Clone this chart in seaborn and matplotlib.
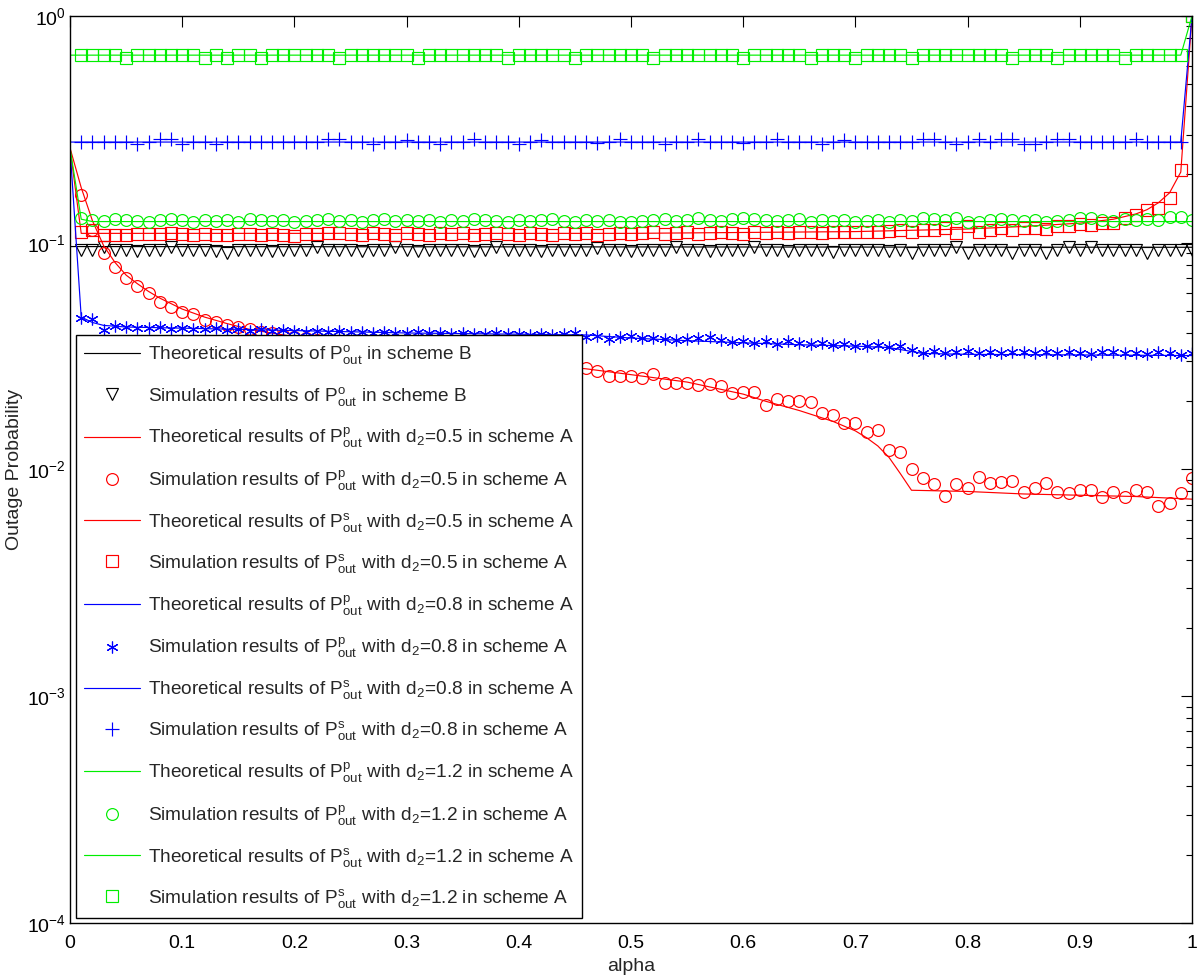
import matplotlib
matplotlib.use("Agg")
import matplotlib.pyplot as plt
from matplotlib.ticker import LogLocator, NullFormatter
import numpy as np
import seaborn as sns

sns.set_style("white")
plt.rcParams["font.family"] = ["Liberation Sans", "DejaVu Sans"]
plt.rcParams["mathtext.fontset"] = "custom"
plt.rcParams["mathtext.rm"] = "Liberation Sans"
plt.rcParams["mathtext.it"] = "Liberation Sans:italic"
plt.rcParams["mathtext.bf"] = "Liberation Sans:bold"

# simulation grid: alpha = 0.01 ... 1.00
alpha_sim = np.round(np.arange(1, 101) * 0.01, 2)

# theoretical curves (knots)
th_b_x = [0.0, 1.0]
th_b_y = [0.0962, 0.0955]

th_pp05_x = [0.0, 0.01, 0.02, 0.03, 0.04, 0.05, 0.06, 0.07, 0.08, 0.10, 0.12, 0.14, 0.16,
             0.20, 0.30, 0.40, 0.46, 0.50, 0.55, 0.60, 0.62, 0.65, 0.68, 0.70, 0.71, 0.72,
             0.73, 0.74, 0.75, 0.80, 0.85, 0.90, 0.95, 1.0]
th_pp05_y = [0.262, 0.175, 0.125, 0.097, 0.082, 0.072, 0.066, 0.061, 0.057, 0.051, 0.047, 0.044, 0.0415,
             0.0385, 0.033, 0.0297, 0.0278, 0.0262, 0.0243, 0.0215, 0.0200, 0.0182, 0.0163, 0.0148, 0.0138, 0.0127,
             0.0113, 0.0096, 0.0081, 0.0080, 0.0078, 0.0077, 0.0076, 0.0074]

th_ps05_x = [0.0, 0.01, 0.5, 0.6, 0.7, 0.75, 0.8, 0.85, 0.9, 0.93, 0.95, 0.96, 0.97, 0.98, 0.99, 1.0]
th_ps05_y = [0.262, 0.110, 0.110, 0.111, 0.112, 0.1135, 0.115, 0.118, 0.122, 0.127, 0.134, 0.140, 0.150, 0.166, 0.205, 1.0]

th_pp08_x = [0.0, 0.01, 0.02, 0.03, 0.05, 0.10, 0.20, 0.30, 0.40, 0.46, 0.50, 0.55, 0.60, 0.65,
             0.70, 0.73, 0.76, 0.80, 0.90, 1.0]
th_pp08_y = [0.262, 0.047, 0.0445, 0.0432, 0.0425, 0.042, 0.041, 0.040, 0.0395, 0.0392, 0.038, 0.037, 0.0362, 0.0355,
             0.035, 0.0345, 0.0325, 0.0322, 0.032, 0.0318]

th_ps08_x = [0.0, 0.99, 1.0]
th_ps08_y = [0.278, 0.278, 1.0]

th_pp12_x = [0.0, 0.01, 0.02, 1.0]
th_pp12_y = [0.262, 0.127, 0.124, 0.124]

th_ps12_x = [0.0, 0.99, 1.0]
th_ps12_y = [0.672, 0.672, 1.0]

# simulation results
sim_b = [0.093, 0.093, 0.096, 0.093, 0.093, 0.092, 0.093, 0.093, 0.096, 0.093,
         0.093, 0.093, 0.092, 0.090, 0.093, 0.093, 0.093, 0.092, 0.093, 0.093,
         0.093, 0.096, 0.093, 0.093, 0.093, 0.092, 0.093, 0.093, 0.096, 0.093,
         0.092, 0.093, 0.093, 0.093, 0.093, 0.092, 0.093, 0.096, 0.093, 0.093,
         0.093, 0.092, 0.093, 0.093, 0.093, 0.093, 0.095, 0.093, 0.093, 0.092,
         0.093, 0.093, 0.093, 0.096, 0.093, 0.093, 0.092, 0.093, 0.093, 0.093,
         0.096, 0.093, 0.093, 0.092, 0.093, 0.093, 0.093, 0.091, 0.093, 0.093,
         0.093, 0.093, 0.092, 0.093, 0.090, 0.093, 0.093, 0.093, 0.096, 0.090,
         0.093, 0.093, 0.093, 0.090, 0.093, 0.093, 0.090, 0.093, 0.096, 0.093,
         0.096, 0.093, 0.093, 0.093, 0.093, 0.090, 0.093, 0.093, 0.093, 0.093]

sim_pp05 = [0.162, 0.114, 0.0898, 0.0779, 0.0697, 0.0645, 0.0602, 0.0550, 0.0523, 0.0497,
            0.0484, 0.0456, 0.0448, 0.0434, 0.0426, 0.0415, 0.0405, 0.0398, 0.0392, 0.0384,
            0.0380, 0.0372, 0.0366, 0.0362, 0.0355, 0.0350, 0.0346, 0.0340, 0.0336, 0.0332,
            0.0327, 0.0323, 0.0320, 0.0316, 0.0312, 0.0309, 0.0305, 0.0302, 0.0300, 0.0297,
            0.0294, 0.0292, 0.0289, 0.0287, 0.0284, 0.0279, 0.0273, 0.0258, 0.0258, 0.0258,
            0.0252, 0.0264, 0.0240, 0.0240, 0.0240, 0.0236, 0.0238, 0.0233, 0.0217, 0.0220,
            0.0220, 0.0193, 0.0204, 0.0201, 0.0201, 0.0198, 0.0177, 0.0174, 0.0160, 0.0160,
            0.0146, 0.0150, 0.0122, 0.0119, 0.0100, 0.00914, 0.00863, 0.00766, 0.00863, 0.00826,
            0.00929, 0.00869, 0.00879, 0.00890, 0.00798, 0.00831, 0.00875, 0.00798, 0.00785, 0.00812,
            0.00812, 0.00759, 0.00798, 0.00759, 0.00812, 0.00798, 0.00692, 0.00710, 0.00791, 0.00914]

sim_ps05 = [0.112, 0.114, 0.108, 0.108, 0.108, 0.109, 0.109, 0.109, 0.110, 0.109,
            0.108, 0.109, 0.108, 0.108, 0.109, 0.109, 0.108, 0.109, 0.108, 0.107,
            0.109, 0.109, 0.110, 0.110, 0.109, 0.108, 0.110, 0.109, 0.108, 0.110,
            0.109, 0.108, 0.110, 0.109, 0.110, 0.108, 0.109, 0.110, 0.109, 0.108,
            0.110, 0.109, 0.108, 0.110, 0.109, 0.110, 0.108, 0.109, 0.110, 0.109,
            0.110, 0.111, 0.109, 0.110, 0.111, 0.109, 0.110, 0.111, 0.110, 0.109,
            0.111, 0.110, 0.112, 0.110, 0.111, 0.112, 0.110, 0.111, 0.112, 0.111,
            0.112, 0.111, 0.113, 0.114, 0.111, 0.114, 0.114, 0.116, 0.110, 0.118,
            0.111, 0.114, 0.116, 0.114, 0.116, 0.116, 0.115, 0.118, 0.118, 0.121,
            0.120, 0.122, 0.122, 0.128, 0.133, 0.139, 0.143, 0.157, 0.209, 1.0]

sim_pp08 = [0.0465, 0.0462, 0.0412, 0.0428, 0.0425, 0.0422, 0.0420, 0.0426, 0.0418, 0.0421,
            0.0418, 0.0416, 0.0420, 0.0412, 0.0415, 0.0410, 0.0418, 0.0409, 0.0412, 0.0408,
            0.0406, 0.0410, 0.0404, 0.0408, 0.0402, 0.0405, 0.0400, 0.0406, 0.0401, 0.0399,
            0.0403, 0.0398, 0.0401, 0.0396, 0.0400, 0.0397, 0.0395, 0.0399, 0.0394, 0.0397,
            0.0393, 0.0396, 0.0392, 0.0395, 0.0398, 0.0384, 0.0389, 0.0378, 0.0385, 0.0387,
            0.0380, 0.0382, 0.0378, 0.0372, 0.0376, 0.0380, 0.0383, 0.0371, 0.0364, 0.0368,
            0.0363, 0.0367, 0.0359, 0.0368, 0.0362, 0.0356, 0.0360, 0.0354, 0.0358, 0.0352,
            0.0350, 0.0354, 0.0346, 0.0349, 0.0335, 0.0325, 0.0334, 0.0325, 0.0331, 0.0334,
            0.0328, 0.0329, 0.0326, 0.0330, 0.0329, 0.0325, 0.0330, 0.0327, 0.0329, 0.0326,
            0.0323, 0.0329, 0.0331, 0.0328, 0.0327, 0.0322, 0.0330, 0.0325, 0.0321, 0.0327]

sim_ps08 = [0.278, 0.278, 0.278, 0.278, 0.278, 0.272, 0.278, 0.287, 0.287, 0.272,
            0.278, 0.278, 0.272, 0.278, 0.278, 0.278, 0.278, 0.278, 0.278, 0.278,
            0.278, 0.278, 0.286, 0.286, 0.278, 0.278, 0.272, 0.278, 0.278, 0.284,
            0.278, 0.278, 0.273, 0.278, 0.278, 0.286, 0.278, 0.278, 0.278, 0.272,
            0.278, 0.284, 0.278, 0.278, 0.278, 0.278, 0.274, 0.278, 0.286, 0.278,
            0.278, 0.278, 0.272, 0.278, 0.278, 0.286, 0.278, 0.278, 0.278, 0.274,
            0.278, 0.278, 0.286, 0.278, 0.278, 0.278, 0.272, 0.278, 0.285, 0.278,
            0.278, 0.278, 0.278, 0.278, 0.278, 0.287, 0.287, 0.278, 0.272, 0.278,
            0.287, 0.278, 0.287, 0.287, 0.272, 0.272, 0.278, 0.287, 0.287, 0.278,
            0.278, 0.278, 0.278, 0.278, 0.287, 0.278, 0.278, 0.278, 0.278, 1.0]

sim_pp12 = [0.128, 0.126, 0.125, 0.127, 0.126, 0.125, 0.124, 0.126, 0.127, 0.126,
            0.123, 0.126, 0.125, 0.126, 0.124, 0.127, 0.126, 0.125, 0.126, 0.123,
            0.125, 0.126, 0.127, 0.125, 0.126, 0.124, 0.126, 0.127, 0.125, 0.126,
            0.125, 0.126, 0.124, 0.126, 0.125, 0.127, 0.126, 0.125, 0.123, 0.126,
            0.125, 0.126, 0.127, 0.125, 0.124, 0.126, 0.125, 0.126, 0.124, 0.123,
            0.125, 0.126, 0.127, 0.125, 0.126, 0.128, 0.126, 0.125, 0.127, 0.129,
            0.127, 0.126, 0.125, 0.126, 0.127, 0.124, 0.126, 0.125, 0.126, 0.124,
            0.125, 0.126, 0.124, 0.126, 0.125, 0.129, 0.127, 0.126, 0.129, 0.123,
            0.123, 0.126, 0.127, 0.126, 0.125, 0.126, 0.124, 0.125, 0.126, 0.129,
            0.129, 0.126, 0.125, 0.127, 0.126, 0.127, 0.126, 0.130, 0.130, 0.126]

sim_ps12 = [0.672, 0.672, 0.672, 0.672, 0.652, 0.672, 0.672, 0.672, 0.672, 0.672,
            0.672, 0.652, 0.672, 0.652, 0.672, 0.672, 0.652, 0.672, 0.672, 0.672,
            0.672, 0.672, 0.672, 0.652, 0.672, 0.672, 0.672, 0.672, 0.672, 0.672,
            0.652, 0.672, 0.672, 0.672, 0.672, 0.672, 0.672, 0.672, 0.652, 0.672,
            0.672, 0.672, 0.672, 0.672, 0.652, 0.672, 0.672, 0.672, 0.672, 0.672,
            0.672, 0.652, 0.672, 0.672, 0.672, 0.672, 0.672, 0.672, 0.672, 0.652,
            0.672, 0.672, 0.672, 0.672, 0.672, 0.652, 0.672, 0.672, 0.672, 0.652,
            0.672, 0.672, 0.672, 0.672, 0.652, 0.672, 0.672, 0.672, 0.672, 0.672,
            0.672, 0.672, 0.672, 0.652, 0.672, 0.672, 0.672, 0.652, 0.672, 0.672,
            0.672, 0.672, 0.672, 0.652, 0.672, 0.672, 0.672, 0.672, 0.672, 1.0]

labels = [
    r"Theoretical results of $\mathrm{P^{o}_{out}}$ in scheme B",
    r"Simulation results of $\mathrm{P^{o}_{out}}$ in scheme B",
    r"Theoretical results of $\mathrm{P^{p}_{out}}$ with $\mathrm{d_{2}}$=0.5 in scheme A",
    r"Simulation results of $\mathrm{P^{p}_{out}}$ with $\mathrm{d_{2}}$=0.5 in scheme A",
    r"Theoretical results of $\mathrm{P^{s}_{out}}$ with $\mathrm{d_{2}}$=0.5 in scheme A",
    r"Simulation results of $\mathrm{P^{s}_{out}}$ with $\mathrm{d_{2}}$=0.5 in scheme A",
    r"Theoretical results of $\mathrm{P^{p}_{out}}$ with $\mathrm{d_{2}}$=0.8 in scheme A",
    r"Simulation results of $\mathrm{P^{p}_{out}}$ with $\mathrm{d_{2}}$=0.8 in scheme A",
    r"Theoretical results of $\mathrm{P^{s}_{out}}$ with $\mathrm{d_{2}}$=0.8 in scheme A",
    r"Simulation results of $\mathrm{P^{s}_{out}}$ with $\mathrm{d_{2}}$=0.8 in scheme A",
    r"Theoretical results of $\mathrm{P^{p}_{out}}$ with $\mathrm{d_{2}}$=1.2 in scheme A",
    r"Simulation results of $\mathrm{P^{p}_{out}}$ with $\mathrm{d_{2}}$=1.2 in scheme A",
    r"Theoretical results of $\mathrm{P^{s}_{out}}$ with $\mathrm{d_{2}}$=1.2 in scheme A",
    r"Simulation results of $\mathrm{P^{s}_{out}}$ with $\mathrm{d_{2}}$=1.2 in scheme A",
]

RED, BLUE, GREEN = "#ff0000", "#0000ff", "#00ee00"

fig = plt.figure(figsize=(12, 9.77), dpi=100)
ax = fig.add_axes([70 / 1200, 54 / 977, 1122 / 1200, 907 / 977])


def theory(x, y, color, label):
    sns.lineplot(x=x, y=y, color=color, lw=0.85, sort=False, errorbar=None,
                 label=label, ax=ax)


def simulation(y, color, marker, size, label):
    sns.lineplot(x=alpha_sim, y=y, color=color, linestyle="", marker=marker,
                 markersize=size, markerfacecolor="none", markeredgecolor=color,
                 markeredgewidth=0.85, sort=False, errorbar=None, label=label, ax=ax)


theory(th_b_x, th_b_y, "k", labels[0])
simulation(sim_b, "k", "v", 9, labels[1])
theory(th_pp05_x, th_pp05_y, RED, labels[2])
simulation(sim_pp05, RED, "o", 8.5, labels[3])
theory(th_ps05_x, th_ps05_y, RED, labels[4])
simulation(sim_ps05, RED, "s", 8, labels[5])
theory(th_pp08_x, th_pp08_y, BLUE, labels[6])
simulation(sim_pp08, BLUE, (6, 2, 0), 8.5, labels[7])
theory(th_ps08_x, th_ps08_y, BLUE, labels[8])
simulation(sim_ps08, BLUE, "+", 9.5, labels[9])
theory(th_pp12_x, th_pp12_y, GREEN, labels[10])
simulation(sim_pp12, GREEN, "o", 8.5, labels[11])
theory(th_ps12_x, th_ps12_y, GREEN, labels[12])
simulation(sim_ps12, GREEN, "s", 8, labels[13])

ax.set_yscale("log")
ax.set_xlim(0, 1)
ax.set_ylim(1e-4, 1)
xt = [0, 0.1, 0.2, 0.3, 0.4, 0.5, 0.6, 0.7, 0.8, 0.9, 1]
ax.set_xticks(xt)
ax.set_xticklabels(["0", "0.1", "0.2", "0.3", "0.4", "0.5", "0.6", "0.7", "0.8", "0.9", "1"])
ax.yaxis.set_minor_locator(LogLocator(base=10, subs=np.arange(2, 10)))
ax.yaxis.set_minor_formatter(NullFormatter())
ax.tick_params(which="both", direction="in", top=True, right=True, colors="k",
               labelsize=14, width=0.8)
ax.tick_params(which="major", length=8)
ax.tick_params(which="minor", length=4.5)
ax.tick_params(axis="x", pad=9)
ax.tick_params(axis="y", pad=3)
for s in ax.spines.values():
    s.set_color("k")
    s.set_linewidth(1.0)

ax.set_xlabel("alpha", fontsize=14, labelpad=4)
ax.set_ylabel("Outage Probability", fontsize=14, labelpad=2.5)

leg = ax.legend(loc="lower left", bbox_to_anchor=(0.005, 0.005), fontsize=13.7,
                frameon=True, fancybox=False, edgecolor="k", framealpha=1,
                handlelength=2.95, handletextpad=0.4, labelspacing=0.95,
                borderpad=0.45, borderaxespad=0, numpoints=1)
leg.get_frame().set_linewidth(1.0)

fig.savefig("out.png", dpi=100)
